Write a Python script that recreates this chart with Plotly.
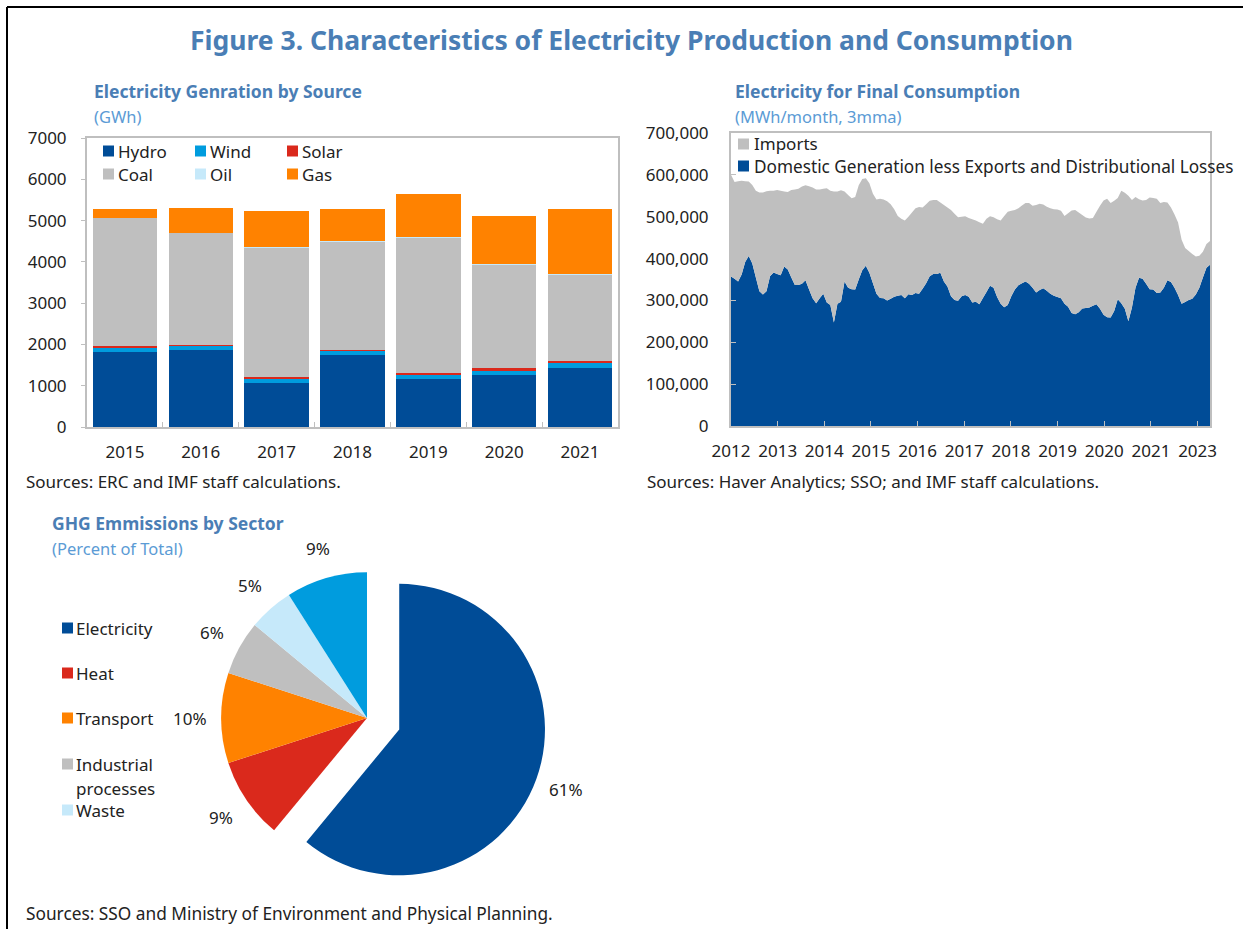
"""Figure 3: characteristics of electricity production and consumption."""

import math

import plotly.graph_objects as go

W, H = 1243, 929
FONT = "Noto Sans"
TITLE_BLUE = "#4a7eb5"
UNIT_BLUE = "#5b9bd5"

DARK_BLUE = "#004c97"
CYAN = "#009cde"
RED = "#da291c"
GREY = "#bfbfbf"
LIGHT_BLUE = "#c6e9fa"
ORANGE = "#ff8200"

# --- Electricity generation by source (GWh) ---
years = ["2015", "2016", "2017", "2018", "2019", "2020", "2021"]
hydro = [1810, 1865, 1054, 1744, 1160, 1265, 1427]
wind = [120, 105, 130, 105, 121, 114, 114]
solar = [25, 25, 16, 24, 17, 40, 49]
coal = [3109, 2704, 3158, 2623, 3296, 2518, 2092]
oil = [5, 5, 5, 5, 5, 5, 24]
gas = [203, 592, 860, 779, 1054, 1176, 1574]

# --- Electricity for final consumption (thousand MWh/month, 3mma) ---
# monthly observations, first one is January 2012
domestic = [
    357, 352, 345, 362, 392, 406, 388, 355, 322, 314, 322, 358,
    367, 363, 360, 381, 374, 355, 337, 337, 340, 348, 326, 305,
    293, 305, 316, 295, 289, 247, 292, 297, 345, 330, 327, 326,
    350, 372, 383, 366, 341, 316, 306, 305, 300, 304, 309, 311,
    313, 305, 315, 313, 318, 316, 328, 341, 358, 363, 363, 366,
    345, 333, 310, 301, 299, 310, 313, 309, 295, 297, 291, 306,
    320, 335, 330, 308, 292, 284, 289, 310, 326, 336, 341, 345,
    340, 330, 319, 325, 329, 323, 316, 311, 308, 305, 292, 285,
    270, 267, 272, 281, 282, 283, 287, 291, 280, 266, 260, 259,
    275, 303, 293, 280, 250, 283, 330, 354, 352, 340, 327, 326,
    318, 319, 330, 348, 344, 330, 313, 292, 296, 301, 304, 314,
    330, 355, 378, 385,
]
imports = [
    243, 231, 240, 224, 193, 178, 188, 207, 236, 244, 239, 204,
    195, 201, 202, 179, 185, 209, 228, 230, 232, 227, 247, 265,
    272, 260, 251, 273, 273, 313, 268, 266, 215, 222, 217, 221,
    225, 218, 209, 214, 214, 225, 237, 236, 237, 226, 209, 191,
    182, 186, 185, 197, 202, 207, 194, 189, 180, 177, 177, 168,
    183, 189, 206, 206, 200, 190, 188, 188, 199, 194, 196, 177,
    175, 166, 169, 186, 199, 218, 223, 204, 190, 184, 186, 188,
    193, 196, 209, 206, 200, 201, 204, 207, 209, 209, 210, 223,
    245, 249, 238, 223, 216, 213, 210, 221, 246, 273, 283, 274,
    263, 242, 269, 277, 300, 257, 217, 188, 187, 200, 219, 219,
    225, 214, 205, 186, 178, 175, 173, 153, 129, 117, 107, 91,
    77, 61, 57, 57,
]
months = list(range(len(domestic)))
area_tick_labels = ["2012", "2013", "2014", "2015", "2016", "2017",
                    "2018", "2019", "2020", "2021", "2023"]
AREA_TICK_STEP = 13.15  # months between labelled ticks on the source chart

# --- GHG emissions by sector (percent of total) ---
sectors = ["Electricity", "Heat", "Transport", "Industrial processes",
           "Waste", "Other"]
shares = [61, 9, 10, 6, 5, 9]
sector_colors = [DARK_BLUE, RED, ORANGE, GREY, LIGHT_BLUE, CYAN]
pulls = [0.235, 0, 0, 0, 0, 0]

# pie placement (pixels); plotly shrinks the radius to make room for the pull
PIE_CX, PIE_CY, PIE_BOX = 367, 718, 360
PIE_R = PIE_BOX / (2 * (1 + max(pulls)))
LABEL_GAP = 31


def px(x):
    return x / W


def py(y):
    return 1 - y / H


fig = go.Figure()

for name, vals, color in [
    ("Hydro", hydro, DARK_BLUE),
    ("Wind", wind, CYAN),
    ("Solar", solar, RED),
    ("Coal", coal, GREY),
    ("Oil", oil, LIGHT_BLUE),
    ("Gas", gas, ORANGE),
]:
    fig.add_trace(go.Bar(x=years, y=vals, name=name, marker_color=color,
                         marker_line_width=0, xaxis="x", yaxis="y"))

fig.add_trace(go.Scatter(x=months, y=[v * 1000 for v in domestic],
                         name="Domestic Generation less Exports and Distributional Losses",
                         stackgroup="cons", mode="none", fillcolor=DARK_BLUE,
                         xaxis="x2", yaxis="y2"))
fig.add_trace(go.Scatter(x=months, y=[v * 1000 for v in imports],
                         name="Imports", stackgroup="cons", mode="none",
                         fillcolor=GREY, xaxis="x2", yaxis="y2"))

fig.add_trace(go.Pie(
    labels=sectors, values=shares, sort=False, direction="clockwise",
    rotation=0, pull=pulls, textinfo="none",
    marker=dict(colors=sector_colors, line=dict(width=0)),
    domain=dict(x=[px(PIE_CX - PIE_BOX / 2), px(PIE_CX + PIE_BOX / 2)],
                y=[py(PIE_CY + PIE_BOX / 2), py(PIE_CY - PIE_BOX / 2)]),
))

axis_common = dict(showline=True, linecolor=GREY, linewidth=2, mirror=True,
                   showgrid=False, zeroline=False, tickcolor=GREY,
                   automargin=False,
                   tickfont=dict(family=FONT, size=17, color="#222222"))

fig.update_layout(
    width=W, height=H,
    margin=dict(l=0, r=0, t=0, b=0, autoexpand=False),
    paper_bgcolor="white", plot_bgcolor="white",
    showlegend=False, barmode="stack", bargap=0.15,
    font=dict(family=FONT, size=17, color="#222222"),
    xaxis=dict(domain=[px(87), px(618)], anchor="y", type="category",
               ticks="inside", tickson="boundaries", ticklen=5,
               ticklabelstandoff=9, **axis_common),
    yaxis=dict(domain=[py(427), py(138)], anchor="x", range=[0, 7000],
               dtick=1000, ticks="outside", ticklen=4, ticklabelstandoff=11,
               **axis_common),
    xaxis2=dict(domain=[px(731), px(1210)], anchor="y2",
                range=[0, months[-1]],
                tickvals=[i * AREA_TICK_STEP for i in range(len(area_tick_labels))],
                ticktext=area_tick_labels, ticks="inside", ticklen=5,
                ticklabelstandoff=9, **axis_common),
    yaxis2=dict(domain=[py(426), py(133)], anchor="x2", range=[0, 700000],
                dtick=100000, tickformat=",", ticks="inside", ticklen=5,
                ticklabelstandoff=17, **axis_common),
)

annotations = []
shapes = []


def text(x, y, s, size=17, color="#222222", bold=False, anchor="left"):
    annotations.append(dict(
        x=px(x), y=py(y), xref="paper", yref="paper", showarrow=False,
        text=f"<b>{s}</b>" if bold else s, xanchor=anchor, yanchor="middle",
        font=dict(family=FONT, size=size, color=color)))


def swatch(x, y, color, size=11):
    shapes.append(dict(type="rect", xref="paper", yref="paper",
                       x0=px(x), x1=px(x + size),
                       y0=py(y + size / 2), y1=py(y - size / 2),
                       fillcolor=color, line=dict(width=0)))


# headings
text(631, 40, "Figure 3. Characteristics of Electricity Production and Consumption",
     size=26.5, color=TITLE_BLUE, bold=True, anchor="center")
text(92, 91, "Electricity Genration by Source", size=17.5, color=TITLE_BLUE, bold=True)
text(92, 116, "(GWh)", size=16.5, color=UNIT_BLUE)
text(733, 91, "Electricity for Final Consumption", size=17.5, color=TITLE_BLUE, bold=True)
text(733, 116, "(MWh/month, 3mma)", size=16.5, color=UNIT_BLUE)
text(50, 523, "GHG Emmissions by Sector", size=17.5, color=TITLE_BLUE, bold=True)
text(50, 548, "(Percent of Total)", size=16.5, color=UNIT_BLUE)

# sources
text(24, 481, "Sources: ERC and IMF staff calculations.")
text(645, 481, "Sources: Haver Analytics; SSO; and IMF staff calculations.")
text(24, 913, "Sources: SSO and Ministry of Environment and Physical Planning.",
     size=17.3)

# bar legend
for name, color, x, y in [
    ("Hydro", DARK_BLUE, 103, 151), ("Wind", CYAN, 195, 151),
    ("Solar", RED, 287, 151), ("Coal", GREY, 103, 174),
    ("Oil", LIGHT_BLUE, 195, 174), ("Gas", ORANGE, 287, 174),
]:
    swatch(x, y, color)
    text(x + 13, y, name)

# area legend
swatch(738, 144, GREY)
text(752, 144, "Imports")
swatch(738, 166, DARK_BLUE)
text(752, 166, "Domestic Generation less Exports and Distributional Losses",
     size=17.2)

# pie legend
for name, color, y in [
    ("Electricity", DARK_BLUE, 628), ("Heat", RED, 673),
    ("Transport", ORANGE, 718), ("Industrial", GREY, 764),
    ("Waste", LIGHT_BLUE, 810),
]:
    swatch(62, y, color)
    text(74, y, name)
text(74, 788, "processes")

# pie percentage labels, placed just outside each slice
total = sum(shares)
cum = 0
for share, pull in zip(shares, pulls):
    theta = math.radians((cum + share / 2) / total * 360)
    cum += share
    dist = PIE_R * (1 + pull) + LABEL_GAP
    text(PIE_CX + dist * math.sin(theta), PIE_CY - dist * math.cos(theta),
         f"{share}%", anchor="center")

# outer frame lines
shapes.append(dict(type="line", xref="paper", yref="paper",
                   x0=px(7), x1=px(7), y0=0, y1=py(7),
                   line=dict(color="black", width=2)))
shapes.append(dict(type="line", xref="paper", yref="paper",
                   x0=px(7), x1=1, y0=py(7), y1=py(7),
                   line=dict(color="black", width=2)))

fig.update_layout(annotations=annotations, shapes=shapes)

fig.write_html("out.html", config={"displayModeBar": False},
               post_script="document.body.style.margin = '0px';")
